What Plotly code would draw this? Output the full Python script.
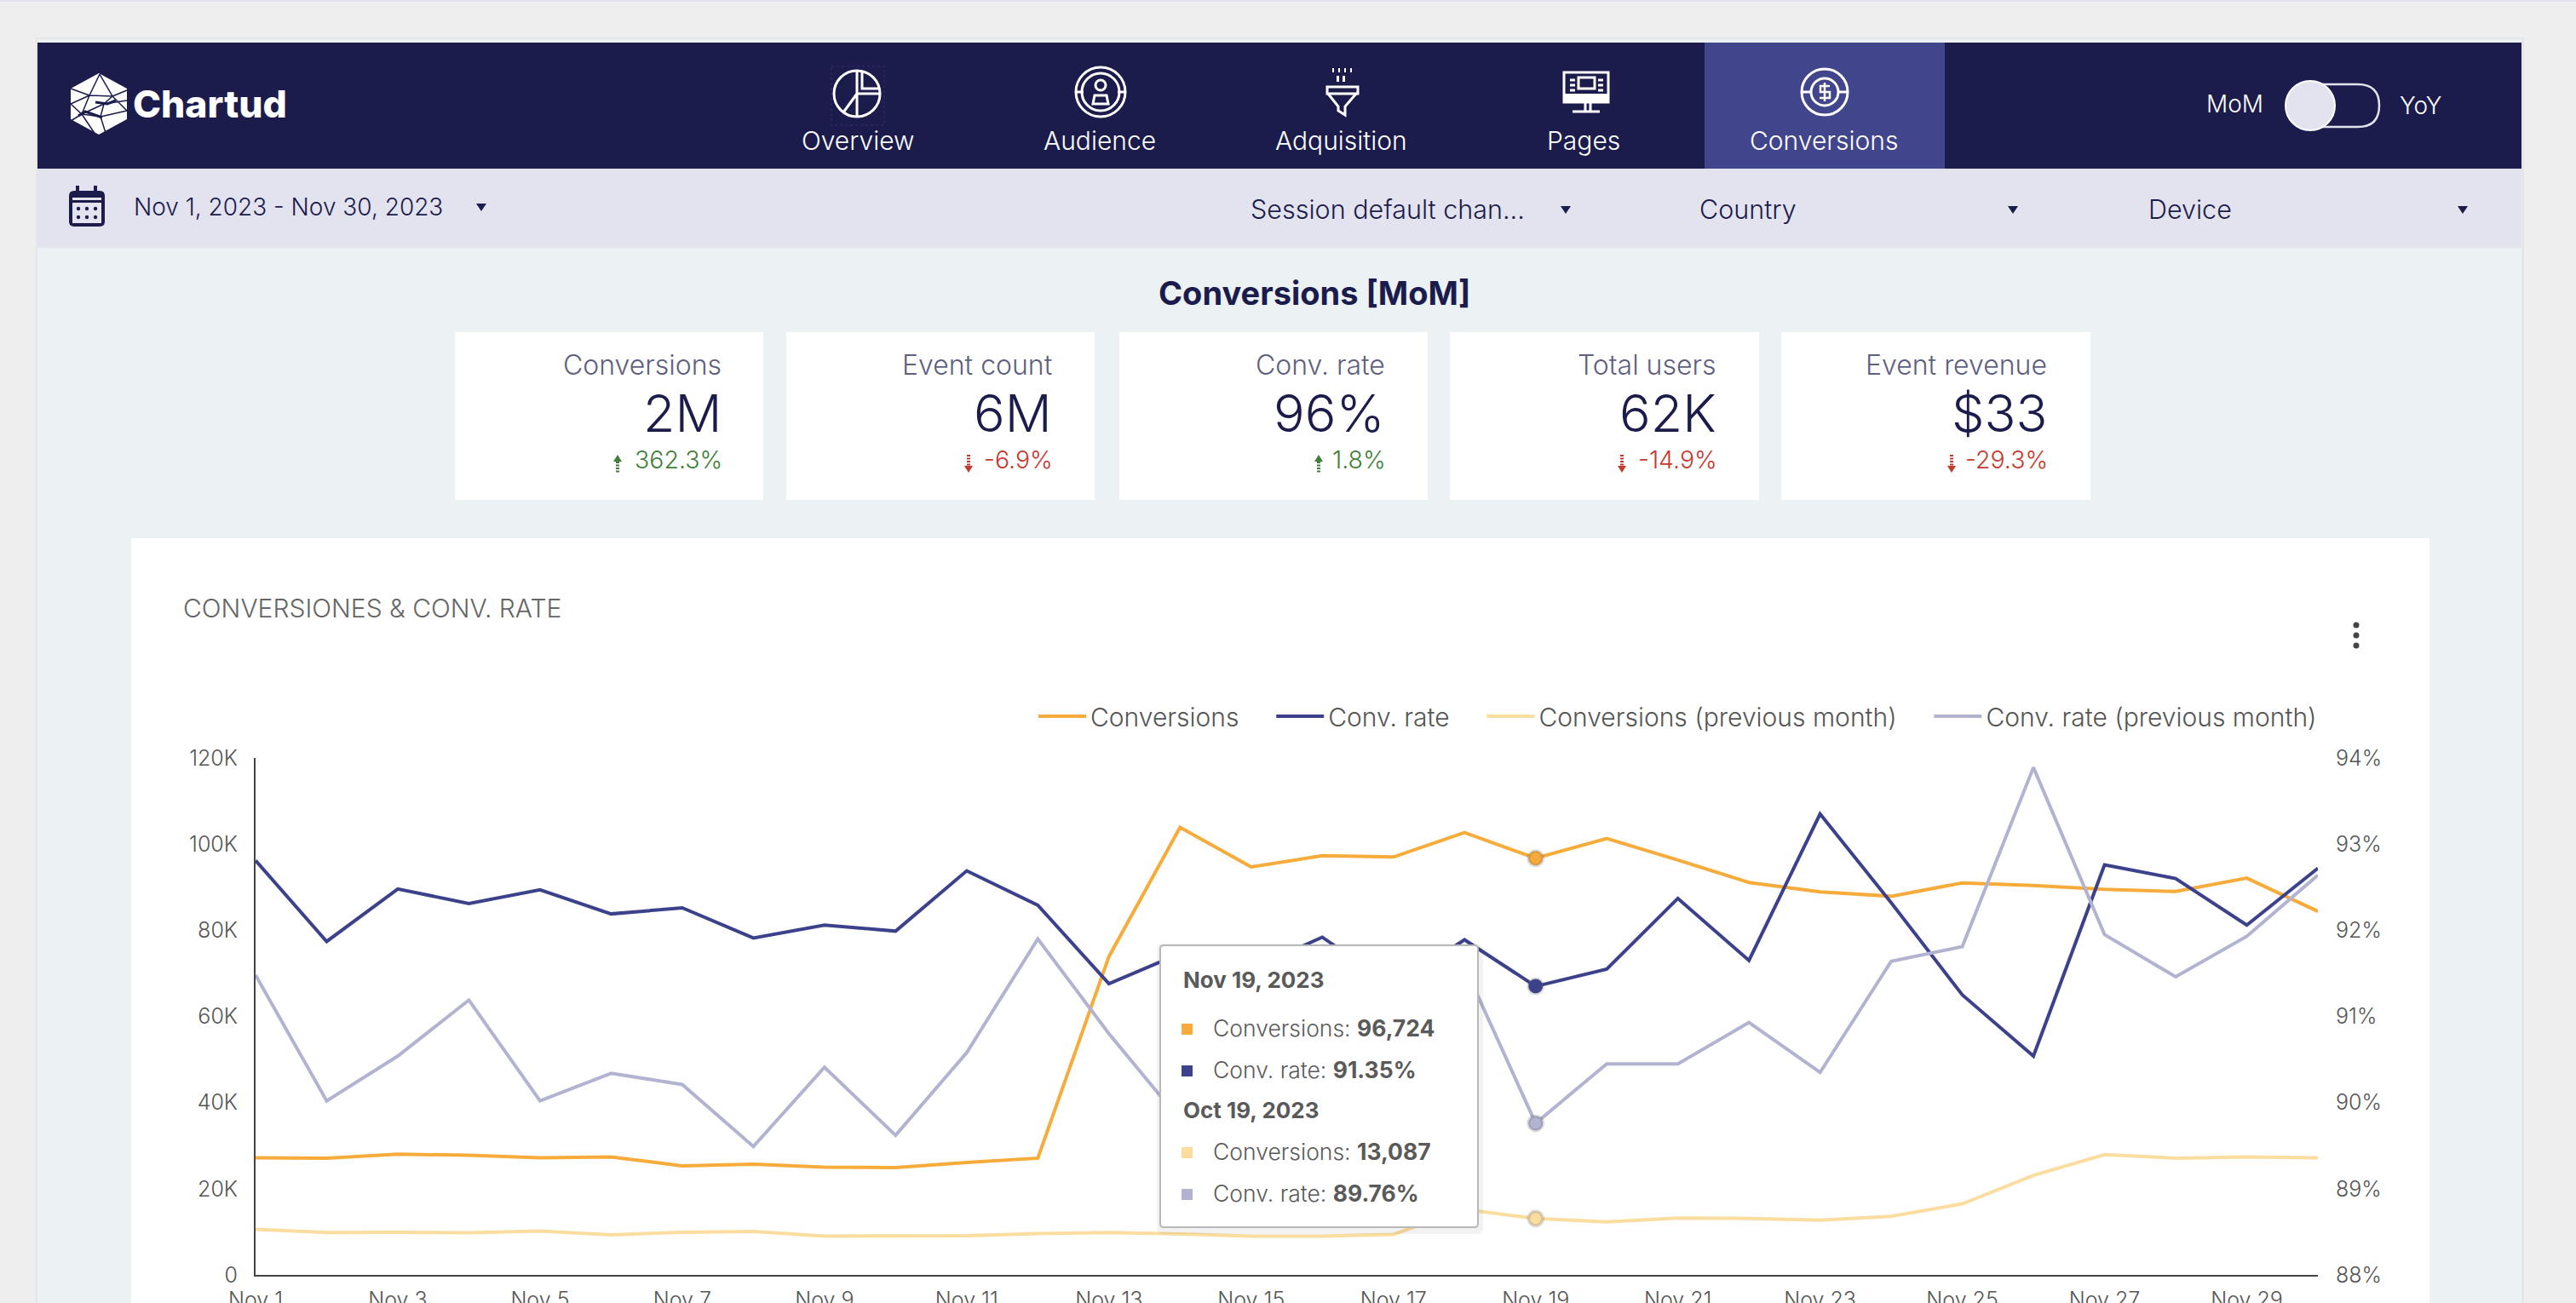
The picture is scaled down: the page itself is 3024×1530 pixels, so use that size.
"""
Chartud conversions dashboard: month-over-month conversions and conversion rate.
"""

import re
import plotly.graph_objects as go

W, H = 3024, 1530

DAYS = [f"Nov {d}" for d in range(1, 31)]
TICK_DAYS = ["Nov 1", "Nov 3", "Nov 5", "Nov 7", "Nov 9", "Nov 11", "Nov 13", "Nov 15",
             "Nov 17", "Nov 19", "Nov 21", "Nov 23", "Nov 25", "Nov 27", "Nov 29"]

CONVERSIONS = [27200, 27100, 28000, 27800, 27200, 27400, 25300, 25700, 25000, 24900,
               26100, 27100, 73900, 103900, 94700, 97300, 97000, 102700, 96724, 101300,
               96300, 91100, 88900, 87900, 91000, 90400, 89500, 89000, 92100, 84400]
CONV_RATE = [92.81, 91.87, 92.48, 92.31, 92.47, 92.19, 92.26, 91.91, 92.06, 91.99,
             92.69, 92.29, 91.38, 91.73, 91.55, 91.92, 91.35, 91.89, 91.35, 91.55,
             92.37, 91.65, 93.35, 92.32, 91.25, 90.54, 92.76, 92.60, 92.06, 92.72]
CONVERSIONS_PREV = [10600, 9850, 9900, 9800, 10200, 9300, 9900, 10100, 9000, 9000,
                    9100, 9600, 9850, 9500, 9000, 9000, 9400, 15200, 13087, 12300,
                    13200, 13100, 12700, 13600, 16500, 23100, 27900, 27100, 27400, 27200]
CONV_RATE_PREV = [91.48, 90.02, 90.54, 91.19, 90.02, 90.34, 90.21, 89.49, 90.41, 89.62,
                  90.58, 91.90, 90.80, 89.80, 90.30, 90.60, 90.90, 91.58, 89.76, 90.45,
                  90.45, 90.93, 90.35, 91.64, 91.81, 93.89, 91.95, 91.46, 91.93, 92.64]

LEFT_TICKS = [0, 20000, 40000, 60000, 80000, 100000, 120000]
LEFT_LABELS = ["0", "20K", "40K", "60K", "80K", "100K", "120K"]
RIGHT_TICKS = [88, 89, 90, 91, 92, 93, 94]
RIGHT_LABELS = ["88%", "89%", "90%", "91%", "92%", "93%", "94%"]

NAV_LABELS = ["Overview", "Audience", "Adquisition", "Pages", "Conversions"]
FILTER_LABELS = ["Session default chan...", "Country", "Device"]
KPI_LABELS = ["Conversions", "Event count", "Conv. rate", "Total users", "Event revenue"]
KPI_VALUES = ["2M", "6M", "96%", "62K", "$33"]
KPI_DELTAS = ["362.3%", "-6.9%", "1.8%", "-14.9%", "-29.3%"]

NAVY = "#1b1c4b"
TAB = "#41458c"
LILAC = "#e3e3ef"
BODY = "#ecf1f4"
ORANGE = "#f6ab3a"
INDIGO = "#3c418c"
ORANGE_PREV = "#fbdda0"
INDIGO_PREV = "#b1b3d1"
GREEN = "#3f7f3a"
RED = "#c5392f"
FONT = "Inter"


def px(x):
    return x / W


def py(y):
    return 1 - y / H


def path(d):
    # pixel path -> paper path (only M L Q C Z are used)
    out, is_x = [], True
    for tok in re.findall(r"[MLQCZ]|-?\d+\.?\d*", d):
        if tok.isalpha():
            out.append(tok)
            is_x = True
        else:
            out.append(f"{px(float(tok)):.6f}" if is_x else f"{py(float(tok)):.6f}")
            is_x = not is_x
    return " ".join(out)


shapes, notes = [], []


def rect(x0, y0, x1, y1, fill, layer="below", line=None, lw=0):
    shapes.append(dict(type="rect", xref="paper", yref="paper", x0=px(x0), x1=px(x1),
                       y0=py(y0), y1=py(y1), fillcolor=fill, layer=layer,
                       line=dict(color=line or fill, width=lw)))


def circle(cx, cy, r, fill=None, line=None, lw=0, layer="above"):
    shapes.append(dict(type="circle", xref="paper", yref="paper", x0=px(cx - r), x1=px(cx + r),
                       y0=py(cy - r), y1=py(cy + r), fillcolor=fill or "rgba(0,0,0,0)",
                       layer=layer, line=dict(color=line or "rgba(0,0,0,0)", width=lw)))


def draw(d, fill=None, line=None, lw=0, layer="above", dash="solid"):
    shapes.append(dict(type="path", xref="paper", yref="paper", path=path(d),
                       fillcolor=fill or "rgba(0,0,0,0)", layer=layer,
                       line=dict(color=line or "rgba(0,0,0,0)", width=lw, dash=dash)))


def round_rect(x0, y0, x1, y1, r):
    return (f"M {x0 + r} {y0} L {x1 - r} {y0} Q {x1} {y0} {x1} {y0 + r} L {x1} {y1 - r} "
            f"Q {x1} {y1} {x1 - r} {y1} L {x0 + r} {y1} Q {x0} {y1} {x0} {y1 - r} "
            f"L {x0} {y0 + r} Q {x0} {y0} {x0 + r} {y0} Z")


def text(x, y, s, size, color, anchor="left", weight=400):
    notes.append(dict(x=px(x), y=py(y - 1.5), xref="paper", yref="paper", text=s, showarrow=False,
                      xanchor=anchor, yanchor="middle", borderpad=0,
                      font=dict(family=FONT, size=size, color=color, weight=weight)))


def caret(x, y):
    draw(f"M {x - 6} {y - 4} L {x + 6} {y - 4} L {x} {y + 5} Z", fill=NAVY)


# page frame
rect(0, 0, W, 2, LILAC)
rect(42, 44, 2963, H, "#e4e6e8")
rect(44, 46, 2960, H, BODY)
rect(44, 50, 2960, 198, NAVY)
rect(44, 198, 2960, 291, LILAC)
rect(2001, 50, 2283, 198, TAB)

# logo
draw("M 116 86 L 149 104 L 149 140 L 116 158 L 83 140 L 83 104 Z", fill="white")
draw("M 83 104 L 105 112 L 117 87 M 105 112 L 132 113 L 117 87 M 132 113 L 149 106 "
     "M 132 113 L 149 130 M 83 122 L 105 112 M 83 122 L 96 134 L 122 122 L 149 118 "
     "M 96 134 L 83 142 M 96 134 L 112 158 M 96 134 L 118 137 L 122 122 L 132 113 "
     "M 118 137 L 149 130 M 118 137 L 124 156 M 105 112 L 96 134",
     line=NAVY, lw=1.5)
draw("M 92 136 L 100 131 L 120 138 M 112 120 L 126 122 L 136 118", line=NAVY, lw=3)
text(155, 124, "Chartud", 44.5, "white", weight=800)

# nav labels and icons
for label, cx in zip(NAV_LABELS, [1007, 1291, 1574, 1859, 2141]):
    text(cx, 166, label, 30, "white", "center", 300)

rect(976, 78, 1038, 147, "rgba(0,0,0,0)", layer="above", line="#3a2a6a", lw=1)
shapes[-1]["line"]["dash"] = "dot"
circle(1006, 110, 27, line="white", lw=3)
draw("M 1006 83 L 1006 110 L 1033 110 M 1006 110 L 990 132 M 1006 110 L 1006 137 "
     "M 1012 83 L 1012 104 L 1033 104", line="white", lw=3)

circle(1292, 108, 29, line="white", lw=3)
circle(1292, 108, 22, line="white", lw=3)
circle(1292, 100, 6, line="white", lw=3)
draw("M 1283 122 L 1285 112 L 1299 112 L 1301 122 Z", line="white", lw=3)
draw("M 1263 108 L 1272 108 M 1312 108 L 1321 108", line="white", lw=3)

for dx in [-11, -4, 3, 10]:
    rect(1576 + dx - 1, 80, 1576 + dx + 1, 85, "white", layer="above")
for dx in [-5, 2]:
    rect(1574 + dx, 89, 1574 + dx + 3, 96, "white", layer="above")
draw("M 1558 102 L 1594 102 L 1594 110 L 1558 110 Z", line="white", lw=3)
draw("M 1559 110 L 1571 125 L 1571 130 L 1579 135 L 1579 125 L 1592 110", line="white", lw=3)

rect(1836, 85, 1888, 120, "rgba(0,0,0,0)", layer="above", line="white", lw=3)
rect(1836, 110, 1888, 120, "white", layer="above")
rect(1853, 91, 1872, 104, "rgba(0,0,0,0)", layer="above", line="white", lw=3)
draw("M 1843 94 L 1849 94 M 1843 100 L 1849 100 M 1843 106 L 1849 106 M 1876 94 L 1882 94 "
     "M 1876 100 L 1882 100 M 1876 106 L 1882 106", line="white", lw=3)
draw("M 1861 120 L 1861 131 M 1846 131 L 1878 131 M 1867 120 L 1867 131", line="white", lw=3)

circle(2142, 108, 27, line="white", lw=3)
circle(2142, 108, 16, line="white", lw=3)
draw("M 2116 108 L 2126 108 M 2158 108 L 2168 108", line="white", lw=3)
draw("M 2148 101 L 2137 101 L 2137 108 L 2148 108 L 2148 115 L 2136 115 M 2142 97 L 2142 119",
     line="white", lw=2.5)

# MoM / YoY toggle
text(2623, 124, "MoM", 28, "white", "center", 300)
text(2841, 125, "YoY", 28, "white", "center", 300)
draw(round_rect(2700, 99, 2793, 149, 25), line=LILAC, lw=2.5)
circle(2712, 124, 29, fill=LILAC, line="white", lw=2)

# filter bar
draw(round_rect(81, 224, 123, 266, 6), fill=NAVY)
rect(89, 218, 93, 228, NAVY, layer="above")
rect(110, 218, 114, 228, NAVY, layer="above")
rect(85, 232, 119, 235, LILAC, layer="above")
rect(85, 238, 119, 262, LILAC, layer="above")
for cx in [92, 102, 112]:
    for cy in [245, 255]:
        circle(cx, cy, 2.2, fill=NAVY)
text(156, 245, "Nov 1, 2023 - Nov 30, 2023", 28, NAVY, weight=300)
caret(565, 243)
for label, x0, x_arrow in zip(FILTER_LABELS, [1467, 1994, 2521], [1838, 2363, 2891]):
    text(x0, 247, label, 30.5, NAVY, weight=300)
    caret(x_arrow, 246)

text(1543, 346, "Conversions [MoM]", 38, NAVY, "center", 700)

# KPI cards
card_x = [(534, 896), (923, 1285), (1314, 1676), (1702, 2065), (2091, 2454)]
card_right = [848, 1236, 1627, 2016, 2404]
arrow_x = [725, 1137, 1548, 1904, 2291]
for (x0, x1), right, ax, label, value, delta in zip(card_x, card_right, arrow_x,
                                                   KPI_LABELS, KPI_VALUES, KPI_DELTAS):
    rect(x0, 390, x1, 587, "white")
    text(right, 430, label, 32, "#5f5f80", "right", 300)
    text(right, 486, value, 61, NAVY, "right", 300)
    down = delta.startswith("-")
    color = RED if down else GREEN
    text(right + 1, 541, delta, 28.5, color, "right", 300)
    if down:
        draw(f"M {ax - 5} 547 L {ax + 5} 547 L {ax} 555 Z", fill=color)
        draw(f"M {ax} 534 L {ax} 547", line=color, lw=4, dash="2px,1.5px")
    else:
        draw(f"M {ax - 5} 542 L {ax + 5} 542 L {ax} 534 Z", fill=color)
        draw(f"M {ax} 542 L {ax} 555", line=color, lw=4, dash="2px,1.5px")

# chart card
rect(154, 632, 2852, H, "white")
text(214, 715, "CONVERSIONES &amp; CONV. RATE", 30, "#666666", weight=300)
for cy in [734, 746, 758]:
    circle(2766, cy, 3.5, fill="#444444")

# tooltip drawn over the lines, the way the hover looks in the screenshot
draw(round_rect(1358, 1108, 1741, 1449, 8), fill="rgba(0,0,0,0.05)")
draw(round_rect(1362, 1110, 1735, 1441, 4), fill="white", line="#b8b8b8", lw=2)
hover = 18
text(1388, 1152, "Nov 19, 2023", 26, "#5a5a5a", weight=700)
text(1388, 1305, "Oct 19, 2023", 26, "#5a5a5a", weight=700)
tip_rows = [
    (1208, ORANGE, f"Conversions: <b>{CONVERSIONS[hover]:,}</b>"),
    (1257, INDIGO, f"Conv. rate: <b>{CONV_RATE[hover]:.2f}%</b>"),
    (1353, ORANGE_PREV, f"Conversions: <b>{CONVERSIONS_PREV[hover]:,}</b>"),
    (1402, INDIGO_PREV, f"Conv. rate: <b>{CONV_RATE_PREV[hover]:.2f}%</b>"),
]
for y, color, s in tip_rows:
    rect(1387, y - 6, 1400, y + 7, color, layer="above")
    text(1423, y, s, 26.5, "#5a5a5a", weight=300)

series = [
    ("Conversions" + "\u00a0" * 4, CONVERSIONS, ORANGE, "y"),
    ("Conv. rate" + "\u00a0" * 4, CONV_RATE, INDIGO, "y2"),
    ("Conversions (previous month)" + "\u00a0" * 4, CONVERSIONS_PREV, ORANGE_PREV, "y"),
    ("Conv. rate (previous month)", CONV_RATE_PREV, INDIGO_PREV, "y2"),
]

fig = go.Figure()
for name, values, color, axis in series:
    fig.add_trace(go.Scatter(x=DAYS, y=values, mode="lines", name=name, yaxis=axis,
                             line=dict(color=color, width=4)))
for name, values, color, axis in series:
    fig.add_trace(go.Scatter(x=[DAYS[hover]], y=[values[hover]], mode="markers", yaxis=axis,
                             showlegend=False, hoverinfo="skip",
                             marker=dict(size=17, color=color,
                                         line=dict(color="rgba(90,90,90,0.22)", width=4))))

tick_font = dict(family=FONT, size=25, color="#555555", weight=300)
fig.update_layout(
    width=W,
    height=H,
    margin=dict(l=0, r=0, t=0, b=0),
    paper_bgcolor="#eeeeee",
    plot_bgcolor="rgba(0,0,0,0)",
    font=dict(family=FONT),
    shapes=shapes,
    annotations=notes,
    hovermode="x unified",
    legend=dict(orientation="h", xanchor="right", x=px(2725), yanchor="middle", y=py(841),
                itemwidth=56, bgcolor="rgba(0,0,0,0)",
                font=dict(family=FONT, size=30, color="#555555", weight=300)),
    xaxis=dict(domain=[px(300), px(2721)], type="category", categoryorder="array",
               categoryarray=DAYS, range=[0, 29], tickmode="array", tickvals=TICK_DAYS,
               ticktext=TICK_DAYS, tickangle=0, tickfont=tick_font, showgrid=False,
               zeroline=False, showline=True, linecolor="#444444", linewidth=2,
               ticklabelstandoff=6, automargin=False),
    yaxis=dict(domain=[py(1497), py(890)], range=[0, 120000], tickmode="array",
               tickvals=LEFT_TICKS, ticktext=LEFT_LABELS, tickfont=tick_font, showgrid=False,
               zeroline=False, showline=True, linecolor="#444444", linewidth=2,
               ticklabelstandoff=14, automargin=False),
    yaxis2=dict(overlaying="y", side="right", range=[88, 94], tickmode="array",
                tickvals=RIGHT_TICKS, ticktext=RIGHT_LABELS, tickfont=tick_font, showgrid=False,
                zeroline=False, showline=False, ticklabelstandoff=20, automargin=False),
)

fig.write_html("out.html", config=dict(displayModeBar=False),
               post_script="document.body.style.margin='0';")
